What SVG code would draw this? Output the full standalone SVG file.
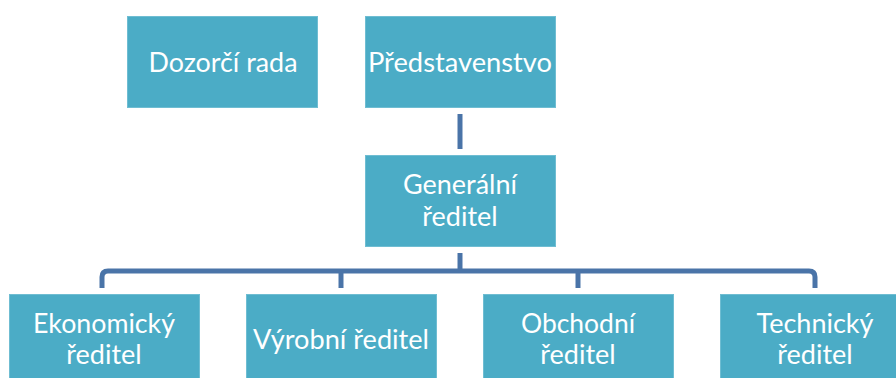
<svg xmlns="http://www.w3.org/2000/svg" width="896" height="378" viewBox="0 0 896 378">
<style>
.box{fill:#4BACC6;stroke:#6fbdd2;stroke-width:1}
.t{font-family:Lato,"Open Sans","Liberation Sans",sans-serif;font-size:27px;fill:#ffffff;text-anchor:middle}
.c{fill:none;stroke:#4A74A8;stroke-width:5}
</style>
<rect width="896" height="378" fill="#ffffff"/>
<g id="connectors">
<path class="c" d="M460,114 V149"/>
<path class="c" d="M460,253 V271"/>
<path class="c" d="M102,288 V277 Q102,271 108,271 H809 Q815,271 815,277 V288"/>
<path class="c" d="M341,271 V288"/>
<path class="c" d="M578,271 V288"/>
</g>
<g id="dozorci-rada">
<rect class="box" x="127.5" y="16.5" width="190" height="91"/>
<text class="t" x="223" y="72" textLength="149" lengthAdjust="spacingAndGlyphs">Dozorčí rada</text>
</g>
<g id="predstavenstvo">
<rect class="box" x="365.5" y="16.5" width="190" height="91"/>
<text class="t" x="460" y="72" textLength="184" lengthAdjust="spacingAndGlyphs">Představenstvo</text>
</g>
<g id="generalni-reditel">
<rect class="box" x="365.5" y="155.5" width="190" height="91"/>
<text class="t" x="460" y="194" textLength="114" lengthAdjust="spacingAndGlyphs">Generální</text>
<text class="t" x="460" y="226">ředitel</text>
</g>
<g id="ekonomicky-reditel">
<rect class="box" x="9.5" y="294.5" width="190" height="91"/>
<text class="t" x="104" y="333" textLength="142" lengthAdjust="spacingAndGlyphs">Ekonomický</text>
<text class="t" x="104" y="364">ředitel</text>
</g>
<g id="vyrobni-reditel">
<rect class="box" x="246.5" y="294.5" width="190" height="91"/>
<text class="t" x="341" y="349" textLength="176" lengthAdjust="spacingAndGlyphs">Výrobní ředitel</text>
</g>
<g id="obchodni-reditel">
<rect class="box" x="483.5" y="294.5" width="190" height="91"/>
<text class="t" x="578" y="333" textLength="114" lengthAdjust="spacingAndGlyphs">Obchodní</text>
<text class="t" x="578" y="364">ředitel</text>
</g>
<g id="technicky-reditel">
<rect class="box" x="720.5" y="294.5" width="190" height="91"/>
<text class="t" x="815" y="333" textLength="117" lengthAdjust="spacingAndGlyphs">Technický</text>
<text class="t" x="815" y="364">ředitel</text>
</g>
</svg>
